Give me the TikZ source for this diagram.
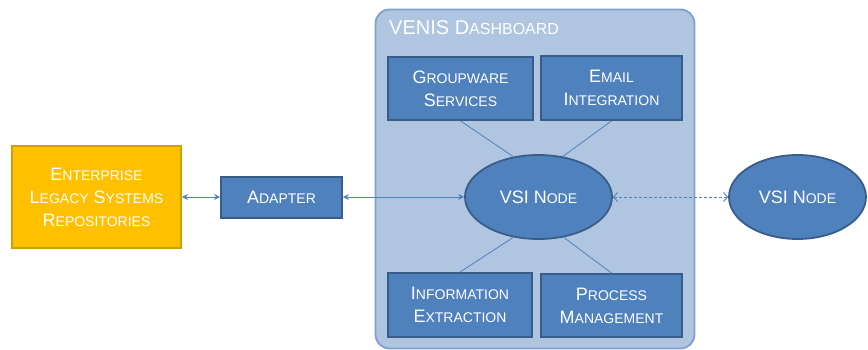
\documentclass[tikz,border=0pt]{standalone}
\usepackage{fontspec}
\setmainfont{Liberation Sans}
\usetikzlibrary{shapes.geometric,arrows.meta}
\definecolor{boxblue}{HTML}{4F81BD}
\definecolor{boxedge}{HTML}{385D8A}
\definecolor{panelfill}{HTML}{B0C5E0}
\definecolor{paneledge}{HTML}{7F9FD0}
\definecolor{gold}{HTML}{FFC000}
\definecolor{goldedge}{HTML}{CFA000}
\newcommand\fsc[2]{#1{\fontsize{14}{14}\selectfont #2}}
\tikzset{
  bluebox/.style={draw=boxedge, fill=boxblue, line width=1.8pt, text=white, align=center, inner sep=0pt, font=\fontsize{18}{23}\selectfont},
  blueell/.style={ellipse, draw=boxedge, fill=boxblue, line width=1.8pt, text=white, inner sep=0pt, font=\fontsize{18}{23}\selectfont},
  link/.style={draw=boxblue, line width=0.8pt},
  biarrow/.style={draw=boxblue, line width=0.9pt, {Stealth[length=6pt,width=6pt]}-{Stealth[length=6pt,width=6pt]}},
  dasharrow/.style={draw=boxblue, line width=0.9pt, dash pattern=on 3pt off 2pt, {Straight Barb[length=4pt,width=9pt]}-{Straight Barb[length=4pt,width=9pt]}}
}
\begin{document}
\begin{tikzpicture}[x=1pt,y=-1pt]
\useasboundingbox (0,0) rectangle (868,350);
% dashboard panel
\node[draw=paneledge, fill=panelfill, line width=1.8pt, rounded corners=14pt, minimum width=319pt, minimum height=339pt, inner sep=0pt] (panel) at (535,179) {};
\node[anchor=base west, text=white, inner sep=0pt, font=\fontsize{20}{24}\selectfont] (title) at (389,35) {VENIS D{\fontsize{16}{16}\selectfont ASHBOARD}};
% inner boxes
\node[bluebox, minimum width=145pt, minimum height=63pt] (gw) at (460.5,88.5) {\fsc{G}{ROUPWARE}\\\fsc{S}{ERVICES}};
\node[bluebox, minimum width=141pt, minimum height=64pt] (em) at (611.5,88) {\fsc{E}{MAIL}\\\fsc{I}{NTEGRATION}};
\node[bluebox, minimum width=144pt, minimum height=64pt] (ie) at (460,305) {\fsc{I}{NFORMATION}\\\fsc{E}{XTRACTION}};
\node[bluebox, minimum width=141pt, minimum height=63pt] (pm) at (611.5,305.5) {\fsc{P}{ROCESS}\\\fsc{M}{ANAGEMENT}};
% ellipses
\node[blueell, minimum width=147pt, minimum height=84pt] (vsi) at (538.5,197) {VSI \fsc{N}{ODE}};
\node[blueell, minimum width=137pt, minimum height=84pt] (vsi2) at (797.5,197) {VSI \fsc{N}{ODE}};
% left boxes
\node[draw=goldedge, fill=gold, line width=1.8pt, text=white, align=center, inner sep=0pt, minimum width=169pt, minimum height=102pt, font=\fontsize{18}{23}\selectfont] (ent) at (96.5,197) {\fsc{E}{NTERPRISE}\\\fsc{L}{EGACY} \fsc{S}{YSTEMS}\\\fsc{R}{EPOSITORIES}};
\node[bluebox, minimum width=121pt, minimum height=41pt] (ad) at (281.5,197.5) {\fsc{A}{DAPTER}};
% links
\draw[link] (gw.south) -- (vsi.122);
\draw[link] (em.south) -- (vsi.59);
\draw[link] (ie.north) -- (vsi.238);
\draw[link] (pm.north) -- (vsi.302);
% arrows
\draw[biarrow] (ent.east) -- (ad.west |- ent.east);
\draw[biarrow] (ad.east |- vsi.west) -- (vsi.west);
\draw[dasharrow] (vsi.east) -- (vsi2.west);
\end{tikzpicture}
\end{document}
